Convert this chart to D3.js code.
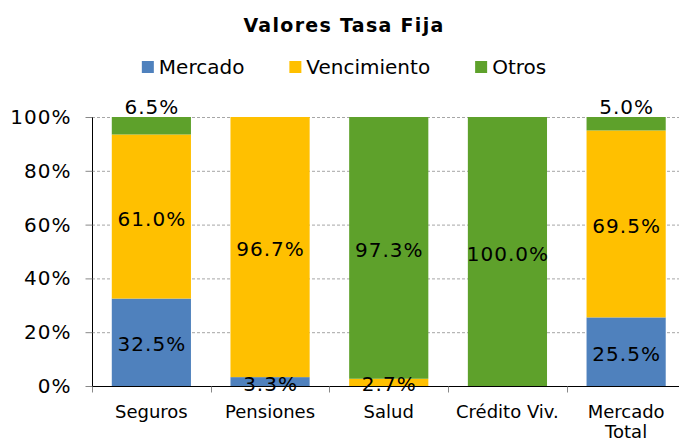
<!DOCTYPE html>
<html>
<head>
<meta charset="utf-8">
<script src="https://cdn.jsdelivr.net/npm/d3@7"></script>
<style>
  body { margin: 0; background: #fff; }
  svg { display: block; font-family: "DejaVu Sans", Verdana, sans-serif; }
</style>
</head>
<body>
<div id="chart"></div>
<script>
// datos
const categories = ['Seguros', 'Pensiones', 'Salud', 'Crédito Viv.', 'Mercado Total'];
const seriesNames = ['Mercado', 'Vencimiento', 'Otros'];
const mercado = [32.5, 3.3, 0, 0, 25.5];
const vencimiento = [61.0, 96.7, 2.7, 0, 69.5];
const otros = [6.5, 0, 97.3, 100.0, 5.0];
const yTicks = [0, 20, 40, 60, 80, 100];
const colors = ['#4F81BD', '#FFC000', '#5EA12B'];

const width = 679, height = 441;
const plotLeft = 92, plotRight = 685.5, plotTop = 117, plotBottom = 386;

const svg = d3.select('#chart').append('svg')
    .attr('width', width)
    .attr('height', height);

const x = d3.scaleBand()
    .domain(categories)
    .range([plotLeft, plotRight])
    .paddingInner(0.333)
    .paddingOuter(0.1667);

const y = d3.scaleLinear()
    .domain([0, 100])
    .range([plotBottom, plotTop]);

const rows = categories.map((c, i) => ({
    cat: c, Mercado: mercado[i], Vencimiento: vencimiento[i], Otros: otros[i]
}));
const stacked = d3.stack().keys(seriesNames)(rows);

// Grid
svg.append('g')
    .selectAll('line')
    .data(yTicks.filter(t => t > 0))
    .join('line')
    .attr('x1', plotLeft)
    .attr('x2', width)
    .attr('y1', d => y(d) + 0.5)
    .attr('y2', d => y(d) + 0.5)
    .attr('stroke', '#A6A6A6')
    .attr('stroke-width', 1)
    .attr('stroke-dasharray', '3,2');

// Barras
stacked.forEach((layer, k) => {
    svg.append('g')
        .attr('fill', colors[k])
        .selectAll('rect')
        .data(layer)
        .join('rect')
        .attr('x', d => x(d.data.cat))
        .attr('width', x.bandwidth())
        .attr('y', d => y(d[1]))
        .attr('height', d => y(d[0]) - y(d[1]));
});

// Etiquetas de datos
stacked.forEach((layer, k) => {
    svg.append('g')
        .selectAll('text')
        .data(layer.filter(d => d[1] - d[0] > 0))
        .join('text')
        .attr('x', d => x(d.data.cat) + x.bandwidth() / 2 + 0.5)
        .attr('y', d => {
            const v = d[1] - d[0];
            if (k === 2 && v < 10) return y(100) - 10;
            return (y(d[0]) + y(d[1])) / 2 + 2;
        })
        .attr('text-anchor', 'middle')
        .attr('dominant-baseline', 'central')
        .attr('fill', '#000')
        .style('font-size', '20px')
        .style('letter-spacing', '1px')
        .text(d => (d[1] - d[0]).toFixed(1) + '%');
});

// Eje Y
const yAxis = svg.append('g')
    .attr('transform', `translate(${plotLeft + 0.5},0)`)
    .call(d3.axisLeft(y).tickValues(yTicks).tickFormat(d => d + '%').tickSize(7).tickPadding(14));
yAxis.select('.domain').attr('stroke', '#000').attr('d', `M0,${plotTop}V${plotBottom}`);
yAxis.selectAll('.tick line').attr('stroke', '#888');
yAxis.selectAll('.tick text')
    .attr('fill', '#000')
    .style('font-size', '20px')
    .style('letter-spacing', '1px')
    .style('font-family', '"DejaVu Sans", Verdana, sans-serif');

// Eje X
const xAxis = svg.append('g')
    .attr('transform', `translate(0,${plotBottom + 0.5})`);
xAxis.append('line')
    .attr('x1', plotLeft).attr('x2', width)
    .attr('stroke', '#000');
xAxis.selectAll('line.tk')
    .data(categories.map(c => x(c) - x.step() * x.paddingInner() / 2))
    .join('line')
    .attr('class', 'tk')
    .attr('x1', d => Math.round(d) + 0.5)
    .attr('x2', d => Math.round(d) + 0.5)
    .attr('y1', 0).attr('y2', 6)
    .attr('stroke', '#888');

const catText = xAxis.selectAll('text')
    .data(categories)
    .join('text')
    .attr('x', d => x(d) + x.bandwidth() / 2)
    .attr('y', 31)
    .attr('text-anchor', 'middle')
    .attr('fill', '#000')
    .style('font-size', '18px');
catText.each(function(d) {
    const words = d === 'Mercado Total' ? ['Mercado', 'Total'] : [d];
    const t = d3.select(this);
    words.forEach((w, i) => {
        t.append('tspan')
            .attr('x', x(d) + x.bandwidth() / 2)
            .attr('dy', i === 0 ? 0 : 20)
            .text(w);
    });
});

// Titulo
svg.append('text')
    .attr('x', 344)
    .attr('y', 32)
    .attr('text-anchor', 'middle')
    .attr('fill', '#000')
    .style('font-size', '19px')
    .style('font-weight', 'bold')
    .style('letter-spacing', '1.3px')
    .text('Valores Tasa Fija');

// Leyenda
const legend = svg.append('g');
const items = legend.selectAll('g')
    .data(seriesNames)
    .join('g');
items.append('rect')
    .attr('width', 12)
    .attr('height', 12)
    .attr('y', -6)
    .attr('fill', (d, i) => colors[i]);
items.append('text')
    .attr('x', 17)
    .attr('dominant-baseline', 'central')
    .attr('fill', '#000')
    .style('font-size', '20px')
    .text(d => d);

let pos = 0;
const offsets = [];
items.each(function() {
    offsets.push(pos);
    pos += this.getBBox().width + 45;
});
const total = pos - 45;
items.attr('transform', (d, i) => `translate(${344 - total / 2 + offsets[i]},67)`);
</script>
</body>
</html>
